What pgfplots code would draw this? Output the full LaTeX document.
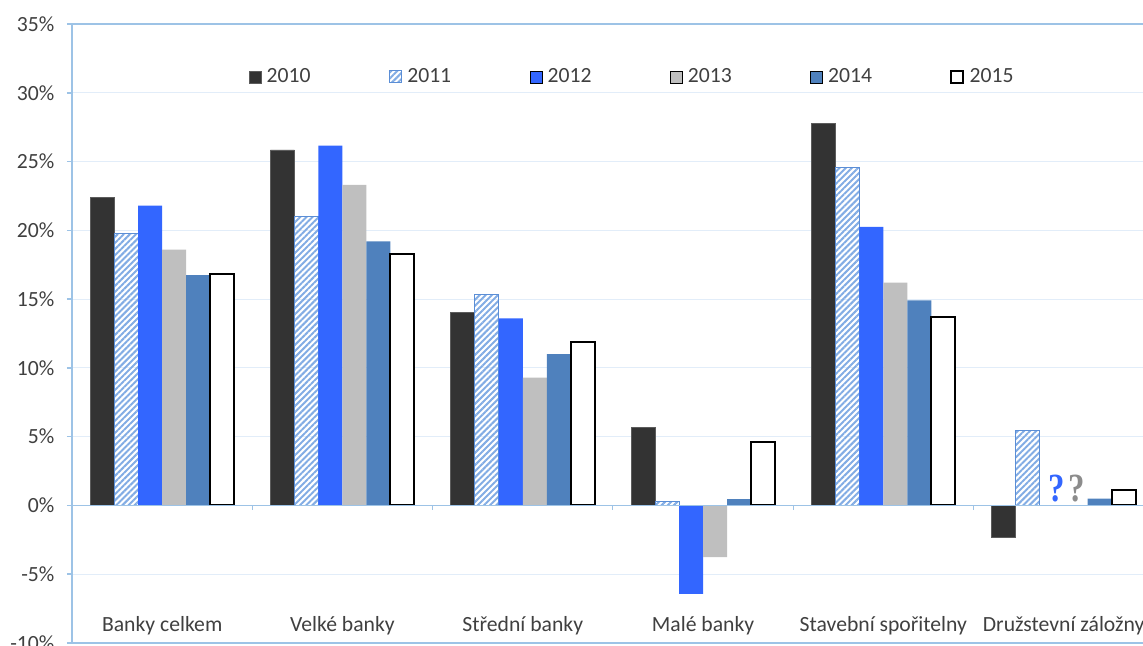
\documentclass[border=0pt]{standalone}
\usepackage{fontspec}
\setmainfont{Carlito}
\newfontfamily\qfont{Liberation Serif}
\usepackage{graphicx}
\usepackage{pgfplots}
\pgfplotsset{compat=1.18}
\usetikzlibrary{patterns.meta}

\definecolor{frame}{RGB}{157,195,230}
\definecolor{gridc}{RGB}{226,237,249}
\definecolor{txt}{RGB}{64,64,64}
\definecolor{c2010}{RGB}{51,51,51}
\definecolor{c2011}{RGB}{130,172,228}
\definecolor{c2011e}{RGB}{91,142,214}
\definecolor{c2012}{RGB}{51,102,255}
\definecolor{c2013}{RGB}{191,191,191}
\definecolor{c2014}{RGB}{79,129,189}
\definecolor{qgray}{RGB}{140,140,140}

\begin{document}
\begin{tikzpicture}
\begin{axis}[
  at={(0,0)}, anchor=south west,
  scale only axis, width=642.6pt, height=371.4pt,
  xmin=-0.5, xmax=5.440, ymin=-10, ymax=35,
  clip=false,
  axis line style={draw=none},
  ytick={-10,-5,...,35},
  yticklabel={\pgfmathprintnumber{\tick}\%},
  /pgf/number format/assume math mode=true,
  ytick style={draw=frame, line width=0.9pt},
  tick align=outside, major tick length=3pt,
  yticklabel style={xshift=-4pt},
  xtick={0,...,5},
  xticklabels={Banky celkem, Velké banky, Střední banky, Malé banky, Stavební spořitelny, Družstevní záložny},
  xtick style={draw=none},
  xticklabel style={anchor=base, yshift=9.6pt},
  ticklabel style={font=\fontsize{13}{15}\selectfont, text=txt},
  ymajorgrids, major grid style={draw=gridc, line width=0.7pt},
  ybar, bar width=0.1331,
  legend image code/.code={\draw[#1] (0pt,-3.6pt) rectangle (7.2pt,3.6pt);},
  legend style={draw=none, fill=none, at={(0.16,0.9144)}, anchor=west,
    legend columns=6, font=\fontsize{13}{15}\selectfont, text=txt,
    /tikz/every odd column/.append style={column sep=1.2pt},
    /tikz/every even column/.append style={column sep=45pt}},
]
% 2010
\addplot[fill=c2010, draw=c2010!80!white, line width=0.4pt, bar shift=-0.33275]
  coordinates {(0,22.4) (1,25.85) (2,14.05) (3,5.7) (4,27.8) (5,-2.3)};
\addlegendentry{2010}
% 2011, hatched
\addplot[pattern={Lines[angle=45,distance=2.6pt,line width=1.2pt]}, pattern color=c2011,
  draw=c2011e, line width=0.6pt, bar shift=-0.19965]
  coordinates {(0,19.75) (1,21.0) (2,15.35) (3,0.3) (4,24.55) (5,5.46)};
\addlegendentry{2011}
% 2012
\addplot[fill=c2012, draw=none, bar shift=-0.06655]
  coordinates {(0,21.8) (1,26.15) (2,13.6) (3,-6.43) (4,20.25)};
\addlegendentry{2012}
% 2013
\addplot[fill=c2013, draw=none, bar shift=0.06655]
  coordinates {(0,18.6) (1,23.3) (2,9.3) (3,-3.76) (4,16.2)};
\addlegendentry{2013}
% 2014
\addplot[fill=c2014, draw=none, bar shift=0.19965]
  coordinates {(0,16.75) (1,19.2) (2,11.0) (3,0.45) (4,14.9) (5,0.5)};
\addlegendentry{2014}
% 2015
\addplot[fill=white, draw=black, line width=1.2pt, bar shift=0.33275]
  coordinates {(0,16.8) (1,18.3) (2,11.9) (3,4.6) (4,13.7) (5,1.14)};
\addlegendentry{2015}

% frame: top, left and bottom edges
\draw[frame, line width=0.9pt] (rel axis cs:1,1) -- (rel axis cs:0,1) -- (rel axis cs:0,0) -- (rel axis cs:1,0);
% zero line with group separators
\draw[frame, line width=0.7pt] (axis cs:-0.5,0) -- (axis cs:5.44,0);
\pgfplotsinvokeforeach{0.5,1.5,2.5,3.5,4.5}{
  \draw[frame, line width=0.7pt] (axis cs:#1,0) -- ++(0pt,-3pt);
}
% missing values for 2012 and 2013
\node[anchor=base, inner sep=0pt, text=c2012, font=\qfont\bfseries\fontsize{24}{24}\selectfont]
  at (axis cs:4.9595,0.3) {\scalebox{0.82}[1]{?}};
\node[anchor=base, inner sep=0pt, text=qgray, font=\qfont\bfseries\fontsize{24}{24}\selectfont]
  at (axis cs:5.071,0.3) {\scalebox{0.82}[1]{?}};
\end{axis}
\pgfresetboundingbox
\path[use as bounding box] (-43.2pt,-1.8pt) rectangle (642.6pt,385.8pt);
\end{tikzpicture}
\end{document}
